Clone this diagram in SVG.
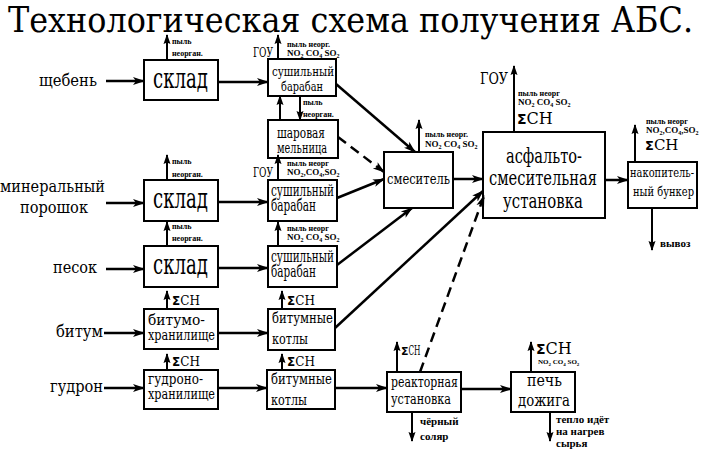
<svg xmlns="http://www.w3.org/2000/svg" width="705" height="450" viewBox="0 0 705 450">
<defs>
<style>
.box{fill:#fff;stroke:#000;stroke-width:2}
.flow{stroke:#000;stroke-width:2.5;fill:none;marker-end:url(#ah)}
.dash{stroke-dasharray:10 6}
.em{stroke:#000;stroke-width:2;fill:none;marker-end:url(#ah2)}
</style>
<marker id="ah" viewBox="0 0 12 10" markerWidth="12" markerHeight="10" refX="11" refY="5" orient="auto" markerUnits="userSpaceOnUse">
<path d="M0,1 L12,5 L0,9 L3,5 z" fill="#000"/>
</marker>
<marker id="ah2" viewBox="0 0 10 8" markerWidth="10" markerHeight="8" refX="9" refY="4" orient="auto" markerUnits="userSpaceOnUse">
<path d="M0,0.5 L10,4 L0,7.5 L1.5,4 z" fill="#000"/>
</marker>
</defs>
<rect width="705" height="450" fill="#fff"/>
<text x="8" y="32" font-size="36" font-family="DejaVu Serif" textLength="685" lengthAdjust="spacingAndGlyphs">Технологическая схема получения АБС.</text>

<g id="inputs">
<text x="39" y="86" font-size="16" font-family="DejaVu Serif" textLength="58" lengthAdjust="spacingAndGlyphs">щебень</text>
<text x="0" y="192" font-size="16" font-family="DejaVu Serif" textLength="105" lengthAdjust="spacingAndGlyphs">минеральный</text>
<text x="20" y="213" font-size="16" font-family="DejaVu Serif" textLength="68" lengthAdjust="spacingAndGlyphs">порошок</text>
<text x="53" y="273" font-size="16" font-family="DejaVu Serif" textLength="44" lengthAdjust="spacingAndGlyphs">песок</text>
<text x="56" y="337" font-size="16" font-family="DejaVu Serif" textLength="47" lengthAdjust="spacingAndGlyphs">битум</text>
<text x="50" y="392" font-size="16" font-family="DejaVu Serif" textLength="53" lengthAdjust="spacingAndGlyphs">гудрон</text>
</g>

<g id="sklad1">
<rect class="box" x="144" y="60" width="74" height="40"/>
<text x="153" y="88" font-size="27" font-family="DejaVu Serif" textLength="55" lengthAdjust="spacingAndGlyphs">склад</text>
</g>
<g id="sklad2">
<rect class="box" x="144" y="180" width="74" height="41"/>
<text x="153" y="208" font-size="27" font-family="DejaVu Serif" textLength="55" lengthAdjust="spacingAndGlyphs">склад</text>
</g>
<g id="sklad3">
<rect class="box" x="144" y="246" width="74" height="41"/>
<text x="153" y="274" font-size="27" font-family="DejaVu Serif" textLength="55" lengthAdjust="spacingAndGlyphs">склад</text>
</g>
<g id="bitumohran">
<rect class="box" x="144" y="309" width="74" height="40"/>
<text x="148" y="325" font-size="14" font-family="DejaVu Serif" textLength="57" lengthAdjust="spacingAndGlyphs">битумо-</text>
<text x="148" y="340" font-size="14" font-family="DejaVu Serif" textLength="67" lengthAdjust="spacingAndGlyphs">хранилище</text>
</g>
<g id="gudronohran">
<rect class="box" x="144" y="370" width="74" height="39"/>
<text x="148" y="384" font-size="14" font-family="DejaVu Serif" textLength="55" lengthAdjust="spacingAndGlyphs">гудроно-</text>
<text x="148" y="399" font-size="14" font-family="DejaVu Serif" textLength="67" lengthAdjust="spacingAndGlyphs">хранилище</text>
</g>

<g id="sush1">
<rect class="box" x="268" y="59" width="68" height="37"/>
<text x="272" y="76" font-size="13" font-family="DejaVu Serif" textLength="62" lengthAdjust="spacingAndGlyphs">сушильный</text>
<text x="281" y="91" font-size="13" font-family="DejaVu Serif" textLength="42" lengthAdjust="spacingAndGlyphs">барабан</text>
</g>
<g id="mill">
<rect class="box" x="268" y="120" width="70" height="38"/>
<text x="277" y="138" font-size="14.5" font-family="DejaVu Serif" textLength="48" lengthAdjust="spacingAndGlyphs">шаровая</text>
<text x="277" y="153" font-size="14.5" font-family="DejaVu Serif" textLength="50" lengthAdjust="spacingAndGlyphs">мельница</text>
</g>
<g id="sush2">
<rect class="box" x="268" y="180" width="69" height="41"/>
<text x="271" y="196" font-size="16" font-family="DejaVu Serif" textLength="63" lengthAdjust="spacingAndGlyphs">сушильный</text>
<text x="271" y="211" font-size="16" font-family="DejaVu Serif" textLength="45" lengthAdjust="spacingAndGlyphs">барабан</text>
</g>
<g id="sush3">
<rect class="box" x="268" y="246" width="69" height="41"/>
<text x="271" y="262" font-size="16" font-family="DejaVu Serif" textLength="63" lengthAdjust="spacingAndGlyphs">сушильный</text>
<text x="271" y="277" font-size="16" font-family="DejaVu Serif" textLength="45" lengthAdjust="spacingAndGlyphs">барабан</text>
</g>
<g id="kotly1">
<rect class="box" x="268" y="309" width="67" height="41"/>
<text x="272" y="323" font-size="14" font-family="DejaVu Serif" textLength="61" lengthAdjust="spacingAndGlyphs">битумные</text>
<text x="272" y="344" font-size="14" font-family="DejaVu Serif" textLength="36" lengthAdjust="spacingAndGlyphs">котлы</text>
</g>
<g id="kotly2">
<rect class="box" x="267" y="370" width="68" height="39"/>
<text x="271" y="384" font-size="14" font-family="DejaVu Serif" textLength="61" lengthAdjust="spacingAndGlyphs">битумные</text>
<text x="271" y="405" font-size="14" font-family="DejaVu Serif" textLength="36" lengthAdjust="spacingAndGlyphs">котлы</text>
</g>
<g id="mixer">
<rect class="box" x="384" y="152" width="69" height="56"/>
<text x="387" y="184" font-size="14" font-family="DejaVu Serif" textLength="63" lengthAdjust="spacingAndGlyphs">смеситель</text>
</g>
<g id="asphalt">
<rect class="box" x="483" y="132" width="122" height="86"/>
<text x="506" y="163" font-size="20" font-family="DejaVu Serif" textLength="76" lengthAdjust="spacingAndGlyphs">асфальто-</text>
<text x="489" y="185" font-size="20" font-family="DejaVu Serif" textLength="108" lengthAdjust="spacingAndGlyphs">смесительная</text>
<text x="503" y="208" font-size="20" font-family="DejaVu Serif" textLength="80" lengthAdjust="spacingAndGlyphs">установка</text>
</g>
<g id="bunker">
<rect class="box" x="628" y="162" width="69" height="46"/>
<text x="630" y="177" font-size="13.5" font-family="DejaVu Serif" textLength="64" lengthAdjust="spacingAndGlyphs">накопитель-</text>
<text x="633" y="196" font-size="13.5" font-family="DejaVu Serif" textLength="61" lengthAdjust="spacingAndGlyphs">ный бункер</text>
</g>
<g id="reactor">
<rect class="box" x="387" y="372" width="74" height="40"/>
<text x="391" y="387" font-size="14" font-family="DejaVu Serif" textLength="67" lengthAdjust="spacingAndGlyphs">реакторная</text>
<text x="391" y="404" font-size="14" font-family="DejaVu Serif" textLength="60" lengthAdjust="spacingAndGlyphs">установка</text>
</g>
<g id="furnace">
<rect class="box" x="511" y="372" width="64" height="40"/>
<text x="527" y="386" font-size="16" font-family="DejaVu Serif" textLength="35" lengthAdjust="spacingAndGlyphs">печь</text>
<text x="518" y="406" font-size="16" font-family="DejaVu Serif" textLength="52" lengthAdjust="spacingAndGlyphs">дожига</text>
</g>

<g id="connectors">
<line class="flow" x1="106" y1="81" x2="144" y2="81"/>
<line class="flow" x1="106" y1="203" x2="144" y2="203"/>
<line class="flow" x1="106" y1="269" x2="144" y2="269"/>
<line class="flow" x1="104" y1="333" x2="144" y2="333"/>
<line class="flow" x1="104" y1="388" x2="144" y2="388"/>
<line class="flow" x1="218" y1="82" x2="268" y2="82"/>
<line class="flow" x1="218" y1="202" x2="268" y2="202"/>
<line class="flow" x1="218" y1="268" x2="268" y2="268"/>
<line class="flow" x1="218" y1="333" x2="268" y2="333"/>
<line class="flow" x1="218" y1="388" x2="267" y2="388"/>
<line class="flow" x1="336" y1="84" x2="415" y2="152"/>
<line class="flow dash" x1="338" y1="137" x2="384" y2="172"/>
<line class="flow" x1="337" y1="198" x2="384" y2="179"/>
<line class="flow" x1="337" y1="265" x2="412" y2="208"/>
<line class="flow" x1="335" y1="328" x2="483" y2="191"/>
<line class="flow dash" x1="420" y1="372" x2="484" y2="196"/>
<line class="flow" x1="453" y1="179" x2="483" y2="179"/>
<line class="flow" x1="605" y1="180" x2="628" y2="180"/>
<line class="flow" x1="335" y1="388" x2="387" y2="388"/>
<line class="flow" x1="461" y1="389" x2="511" y2="389"/>
<line class="em" x1="280" y1="120" x2="280" y2="96"/>
<line class="em" x1="300" y1="96" x2="300" y2="120"/>
<line class="em" x1="167" y1="60" x2="167" y2="35"/>
<line class="em" x1="278" y1="59" x2="278" y2="35"/>
<line class="em" x1="167" y1="180" x2="167" y2="155"/>
<line class="em" x1="278" y1="180" x2="278" y2="155"/>
<line class="em" x1="167" y1="246" x2="167" y2="222"/>
<line class="em" x1="278" y1="246" x2="278" y2="222"/>
<line class="em" x1="167" y1="309" x2="167" y2="291"/>
<line class="em" x1="282" y1="309" x2="282" y2="291"/>
<line class="em" x1="167" y1="370" x2="167" y2="354"/>
<line class="em" x1="282" y1="370" x2="282" y2="354"/>
<line class="em" x1="419" y1="152" x2="419" y2="120"/>
<line class="em" x1="514" y1="132" x2="514" y2="66"/>
<line class="em" x1="635" y1="162" x2="635" y2="125"/>
<line class="em" x1="652" y1="208" x2="652" y2="250"/>
<line class="em" x1="397" y1="372" x2="397" y2="342"/>
<line class="em" x1="412" y1="412" x2="412" y2="441"/>
<line class="em" x1="531" y1="372" x2="531" y2="342"/>
<line class="em" x1="550" y1="412" x2="550" y2="441"/>
</g>

<g id="labels">
<text x="172" y="44" font-size="8" font-family="Liberation Serif" font-weight="bold">пыль</text>
<text x="172" y="56" font-size="8" font-family="Liberation Serif" font-weight="bold">неорган.</text>
<text x="253" y="57" font-size="13" font-family="DejaVu Serif" textLength="20" lengthAdjust="spacingAndGlyphs">ГОУ</text>
<text x="287" y="47" font-size="8" font-family="Liberation Serif" font-weight="bold">пыль неорг.</text>
<text x="287" y="56" font-size="9" font-family="Liberation Serif" font-weight="bold">NO<tspan dy="2" font-size="6">2</tspan><tspan dy="-2"> CO</tspan><tspan dy="2" font-size="6">4</tspan><tspan dy="-2"> SO</tspan><tspan dy="2" font-size="6">2</tspan></text>
<text x="303" y="105" font-size="8" font-family="Liberation Serif" font-weight="bold">пыль</text>
<text x="303" y="117" font-size="8" font-family="Liberation Serif" font-weight="bold">неорган.</text>

<text x="172" y="164" font-size="8" font-family="Liberation Serif" font-weight="bold">пыль</text>
<text x="172" y="177" font-size="8" font-family="Liberation Serif" font-weight="bold">неорган.</text>
<text x="253" y="177" font-size="13" font-family="DejaVu Serif" textLength="20" lengthAdjust="spacingAndGlyphs">ГОУ</text>
<text x="287" y="166" font-size="8" font-family="Liberation Serif" font-weight="bold">пыль неорг</text>
<text x="287" y="175" font-size="9" font-family="Liberation Serif" font-weight="bold">NO<tspan dy="2" font-size="6">2</tspan><tspan dy="-2">,CO</tspan><tspan dy="2" font-size="6">4</tspan><tspan dy="-2">,SO</tspan><tspan dy="2" font-size="6">2</tspan></text>

<text x="172" y="229" font-size="8" font-family="Liberation Serif" font-weight="bold">пыль</text>
<text x="172" y="241" font-size="8" font-family="Liberation Serif" font-weight="bold">неорган.</text>
<text x="287" y="231" font-size="8" font-family="Liberation Serif" font-weight="bold">пыль неорг</text>
<text x="287" y="240" font-size="9" font-family="Liberation Serif" font-weight="bold">NO<tspan dy="2" font-size="6">2</tspan><tspan dy="-2"> CO</tspan><tspan dy="2" font-size="6">4</tspan><tspan dy="-2"> SO</tspan><tspan dy="2" font-size="6">2</tspan></text>

<text x="172" y="305" font-size="12" font-family="DejaVu Serif"><tspan font-family="DejaVu Sans" font-weight="bold" font-size="12">Σ</tspan>CH</text>
<text x="287" y="305" font-size="12" font-family="DejaVu Serif"><tspan font-family="DejaVu Sans" font-weight="bold" font-size="12">Σ</tspan>CH</text>
<text x="172" y="366" font-size="12" font-family="DejaVu Serif"><tspan font-family="DejaVu Sans" font-weight="bold" font-size="12">Σ</tspan>CH</text>
<text x="287" y="366" font-size="12" font-family="DejaVu Serif"><tspan font-family="DejaVu Sans" font-weight="bold" font-size="12">Σ</tspan>CH</text>

<text x="425" y="137" font-size="8" font-family="Liberation Serif" font-weight="bold">пыль неорг.</text>
<text x="425" y="147" font-size="9" font-family="Liberation Serif" font-weight="bold">NO<tspan dy="2" font-size="6">2</tspan><tspan dy="-2"> CO</tspan><tspan dy="2" font-size="6">4</tspan><tspan dy="-2"> SO</tspan><tspan dy="2" font-size="6">2</tspan></text>

<text x="480" y="84" font-size="17" font-family="DejaVu Serif" textLength="28" lengthAdjust="spacingAndGlyphs">ГОУ</text>
<text x="518" y="96" font-size="8" font-family="Liberation Serif" font-weight="bold">пыль неорг</text>
<text x="518" y="105" font-size="9" font-family="Liberation Serif" font-weight="bold">NO<tspan dy="2" font-size="6">2</tspan><tspan dy="-2"> CO</tspan><tspan dy="2" font-size="6">4</tspan><tspan dy="-2"> SO</tspan><tspan dy="2" font-size="6">2</tspan></text>
<text x="517" y="124" font-size="16" font-family="DejaVu Serif"><tspan font-family="DejaVu Sans" font-weight="bold" font-size="14">Σ</tspan>CH</text>

<text x="646" y="124" font-size="8" font-family="Liberation Serif" font-weight="bold">пыль неорг</text>
<text x="646" y="133" font-size="9" font-family="Liberation Serif" font-weight="bold">NO<tspan dy="2" font-size="6">2</tspan><tspan dy="-2">,CO</tspan><tspan dy="2" font-size="6">4</tspan><tspan dy="-2">,SO</tspan><tspan dy="2" font-size="6">2</tspan></text>
<text x="645" y="150" font-size="15" font-family="DejaVu Serif"><tspan font-family="DejaVu Sans" font-weight="bold" font-size="13">Σ</tspan>CH</text>
<text x="660" y="247" font-size="11" font-family="Liberation Serif" font-weight="bold">вывоз</text>

<text x="401" y="355" font-size="12" font-family="DejaVu Serif"><tspan font-family="DejaVu Sans" font-weight="bold" font-size="11">Σ</tspan><tspan textLength="12" lengthAdjust="spacingAndGlyphs">CH</tspan></text>
<text x="420" y="425" font-size="11" font-family="Liberation Serif" font-weight="bold">чёрный</text>
<text x="420" y="440" font-size="11" font-family="Liberation Serif" font-weight="bold">соляр</text>

<text x="536" y="354" font-size="16" font-family="DejaVu Serif"><tspan font-family="DejaVu Sans" font-weight="bold" font-size="14">Σ</tspan>CH</text>
<text x="538" y="364" font-size="7" font-family="Liberation Serif" font-weight="bold">NO<tspan dy="2" font-size="5">2</tspan><tspan dy="-2"> CO</tspan><tspan dy="2" font-size="5">4</tspan><tspan dy="-2"> SO</tspan><tspan dy="2" font-size="5">2</tspan></text>
<text x="556" y="423" font-size="11" font-family="Liberation Serif" font-weight="bold">тепло идёт</text>
<text x="556" y="435" font-size="11" font-family="Liberation Serif" font-weight="bold">на нагрев</text>
<text x="556" y="447" font-size="11" font-family="Liberation Serif" font-weight="bold">сырья</text>
</g>
</svg>
